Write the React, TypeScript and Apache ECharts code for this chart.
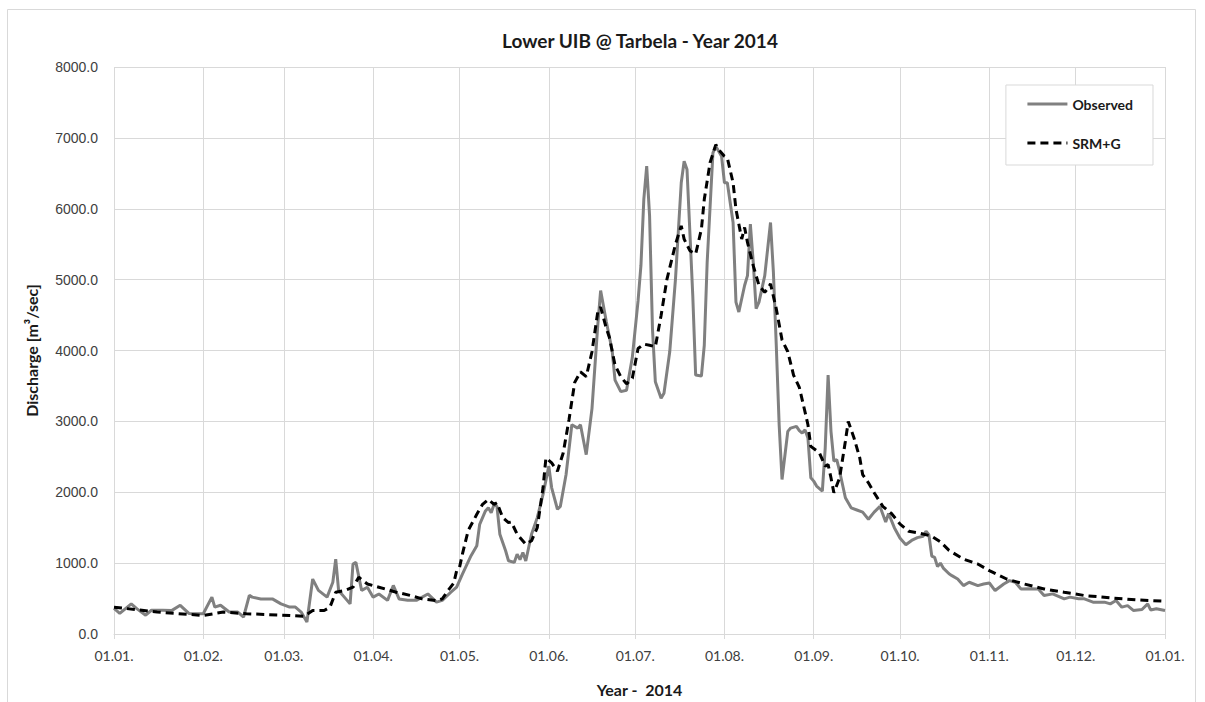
import React, { useEffect, useRef } from "react";
import * as echarts from "echarts";

// Daily categories 01.01.2014 .. 01.01.2015
const START_YEAR = 2014;
const dayCategories: string[] = [];
for (let i = 0; i <= 365; i++) {
  const d = new Date(START_YEAR, 0, 1 + i);
  const mm = String(d.getMonth() + 1).padStart(2, "0");
  const dd = String(d.getDate()).padStart(2, "0");
  dayCategories.push(`${d.getFullYear()}-${mm}-${dd}`);
}

const yTicks = [0, 1000, 2000, 3000, 4000, 5000, 6000, 7000, 8000];

// [day index, discharge m3/s]
const observed: [number, number][] = [
  [0, 360], [2, 290], [6, 425], [8, 355], [11, 265], [13, 335], [17, 335], [20, 330], [23, 405], [26, 290], [31, 285],
  [34, 520], [35, 380], [37, 405], [40, 310], [43, 310], [45, 240], [47, 545], [48, 520], [51, 495], [55, 495], [58, 425],
  [61, 380], [63, 380], [65, 310], [67, 170], [69, 775], [71, 615], [74, 520], [76, 730], [77, 1057], [78, 615], [80, 520],
  [82, 425], [83, 987], [84, 1010], [86, 615], [88, 660], [90, 520], [92, 565], [95, 475], [97, 685], [99, 495], [102, 475],
  [105, 475], [109, 565], [112, 450], [114, 475], [117, 590], [119, 660], [121, 846], [124, 1105], [126, 1245], [127, 1548],
  [129, 1736], [130, 1782], [131, 1712], [132, 1829], [133, 1800], [134, 1408], [136, 1175], [137, 1034], [139, 1010],
  [140, 1127], [141, 1050], [142, 1150], [143, 1030], [145, 1408], [147, 1642], [149, 1969], [151, 2368], [152, 2063],
  [154, 1760], [155, 1800], [157, 2250], [159, 2952], [161, 2905], [162, 2952], [164, 2530], [166, 3180], [168, 4355],
  [169, 4846], [171, 4403], [173, 4000], [174, 3583], [176, 3420], [178, 3440], [180, 3900], [182, 4700], [183, 5200],
  [184, 6133], [185, 6601], [186, 5899], [187, 4309], [188, 3560], [190, 3326], [191, 3396], [193, 3982], [195, 5011],
  [197, 6367], [198, 6671], [199, 6554], [201, 4776], [202, 3653], [204, 3640], [205, 4074], [206, 5245], [208, 6788],
  [209, 6881], [211, 6741], [212, 6367], [213, 6367], [215, 5806], [216, 4683], [217, 4543], [219, 4917], [220, 5057],
  [221, 5783], [222, 5245], [223, 4589], [224, 4683], [226, 5057], [228, 5806], [229, 5105], [230, 4074], [231, 2952],
  [232, 2180], [234, 2859], [235, 2905], [237, 2930], [238, 2870], [239, 2835], [240, 2880], [241, 2765], [242, 2204],
  [243, 2157], [244, 2087], [246, 2017], [247, 2625], [248, 3653], [249, 2860], [250, 2438], [251, 2460], [252, 2297],
  [254, 1923], [256, 1780], [258, 1750], [260, 1720], [262, 1620], [264, 1720], [266, 1800], [268, 1580], [269, 1700],
  [271, 1500], [273, 1350], [275, 1260], [277, 1320], [279, 1360], [281, 1380], [282, 1450], [283, 1400], [284, 1100],
  [285, 1080], [286, 950], [287, 1000], [288, 930], [290, 850], [291, 823], [293, 776], [295, 683], [297, 730], [300, 683],
  [302, 706], [304, 720], [306, 613], [309, 706], [311, 753], [313, 730], [315, 636], [318, 640], [321, 636], [323, 543],
  [326, 566], [330, 496], [332, 520], [335, 496], [337, 496], [340, 449], [344, 449], [346, 425], [348, 472], [350, 379],
  [352, 400], [354, 332], [357, 345], [359, 425], [360, 340], [362, 355], [365, 332],
];

const srmG: [number, number][] = [
  [0, 379], [15, 309], [31, 262], [38, 309], [46, 286], [61, 262], [66, 250], [69, 332], [73, 332], [75, 379], [77, 590],
  [80, 613], [83, 660], [85, 800], [88, 706], [92, 660], [98, 590], [103, 543], [107, 496], [112, 470], [114, 496],
  [116, 613], [118, 720], [119, 894], [120, 940], [121, 1127], [123, 1460], [126, 1689], [128, 1829], [130, 1899],
  [132, 1829], [133, 1853], [135, 1642], [137, 1572], [138, 1580], [140, 1408], [143, 1267], [145, 1315], [147, 1502],
  [149, 2063], [150, 2484], [152, 2414], [154, 2297], [156, 2554], [158, 3020], [160, 3550], [162, 3700], [164, 3630],
  [166, 3982], [168, 4543], [169, 4613], [171, 4309], [172, 4192], [174, 3793], [176, 3630], [178, 3530], [180, 3607],
  [182, 4028], [184, 4090], [186, 4074], [188, 4052], [190, 4495], [192, 5000], [195, 5500], [197, 5759], [198, 5572],
  [200, 5408], [202, 5361], [204, 5712], [205, 6133], [207, 6648], [209, 6905], [210, 6835], [212, 6741], [213, 6718],
  [215, 6367], [216, 5993], [218, 5572], [219, 5736], [220, 5525], [222, 5197], [224, 4917], [226, 4823], [227, 4870],
  [228, 4940], [230, 4589], [232, 4150], [234, 3982], [236, 3653], [238, 3480], [240, 3130], [241, 2952], [242, 2648],
  [245, 2554], [247, 2368], [248, 2390], [249, 2204], [250, 1993], [252, 2204], [254, 2719], [255, 2999], [257, 2765],
  [259, 2484], [260, 2250], [262, 2133], [264, 1993], [267, 1800], [270, 1700], [273, 1550], [276, 1450], [280, 1420],
  [284, 1380], [287, 1300], [290, 1180], [295, 1057], [300, 987], [304, 894], [310, 776], [316, 706], [323, 636],
  [330, 589], [337, 543], [346, 510], [355, 482], [365, 463],
];

const monthStart = new Set<number>();
dayCategories.forEach((c, i) => {
  if (c.endsWith("-01")) monthStart.add(i);
});

const fmtDay = (c: string) => {
  const p = c.split("-");
  return `${p[2]}.${p[1]}.`;
};

const GRID_COLOR = "#d9d9d9";
const FONT = "Lato, 'Open Sans', sans-serif";

export default function App() {
  const ref = useRef<HTMLDivElement>(null);
  useEffect(() => {
    if (!ref.current) return;
    const chart = echarts.init(ref.current, undefined, { renderer: "svg" });
    chart.setOption({
      animation: false,
      backgroundColor: "#ffffff",
      title: {
        text: "Lower UIB @ Tarbela - Year 2014",
        left: 640,
        top: 31,
        padding: 0,
        textAlign: "center",
        textStyle: { fontFamily: FONT, fontSize: 19, fontWeight: "bold", color: "#1a1a1a" },
      },
      graphic: [
        {
          type: "rect",
          shape: { x: 7.5, y: 9.5, width: 1188, height: 720 },
          style: { fill: "none", stroke: GRID_COLOR, lineWidth: 1 },
          silent: true,
        },
      ],
      legend: {
        orient: "vertical",
        right: 52,
        top: 85,
        padding: [12, 20, 15, 20],
        itemWidth: 40,
        itemHeight: 14,
        itemGap: 25,
        backgroundColor: "#ffffff",
        borderColor: GRID_COLOR,
        borderWidth: 1,
        itemStyle: { opacity: 0 },
        lineStyle: { width: 3 },
        textStyle: { fontFamily: FONT, fontSize: 14, fontWeight: "bold", color: "#1a1a1a" },
        data: ["Observed", "SRM+G"],
      },
      grid: { left: 114, right: 40, top: 67, bottom: 65, containLabel: false },
      xAxis: {
        type: "category",
        data: dayCategories,
        boundaryGap: false,
        name: "Year -  2014",
        nameLocation: "middle",
        nameGap: 47,
        nameTextStyle: { fontFamily: FONT, fontSize: 16, fontWeight: "bold", color: "#1a1a1a" },
        axisLine: { show: true, lineStyle: { color: GRID_COLOR, width: 1 } },
        axisTick: {
          show: true,
          length: 5,
          interval: (i: number) => monthStart.has(i),
          lineStyle: { color: GRID_COLOR },
        },
        axisLabel: {
          interval: (i: number) => monthStart.has(i),
          formatter: (v: string) => fmtDay(v),
          margin: 14,
          fontFamily: FONT,
          fontSize: 14,
          color: "#404040",
        },
        splitLine: {
          show: true,
          interval: (i: number) => monthStart.has(i),
          lineStyle: { color: GRID_COLOR, width: 1 },
        },
      },
      yAxis: {
        type: "value",
        min: yTicks[0],
        max: yTicks[yTicks.length - 1],
        interval: 1000,
        name: "Discharge [m³/sec]",
        nameLocation: "middle",
        nameGap: 75,
        nameTextStyle: { fontFamily: FONT, fontSize: 16, fontWeight: "bold", color: "#1a1a1a" },
        axisLine: { show: false },
        axisTick: { show: false },
        axisLabel: {
          formatter: (v: number) => v.toFixed(1),
          margin: 16,
          fontFamily: "'Liberation Sans', Arial, sans-serif",
          fontSize: 14,
          color: "#404040",
        },
        splitLine: { show: true, lineStyle: { color: GRID_COLOR, width: 1 } },
      },
      series: [
        {
          name: "Observed",
          type: "line",
          data: observed,
          showSymbol: false,
          symbol: "none",
          lineStyle: { color: "#808080", width: 3 },
          itemStyle: { color: "#808080" },
          z: 2,
        },
        {
          name: "SRM+G",
          type: "line",
          data: srmG,
          showSymbol: false,
          symbol: "none",
          lineStyle: { color: "#000000", width: 3, type: [8, 5] },
          itemStyle: { color: "#000000" },
          z: 3,
        },
      ],
    });
    return () => chart.dispose();
  }, []);
  return (
    <div
      ref={ref}
      style={{ position: "fixed", left: 0, top: 0, width: 1205, height: 702, background: "#fff" }}
    />
  );
}
